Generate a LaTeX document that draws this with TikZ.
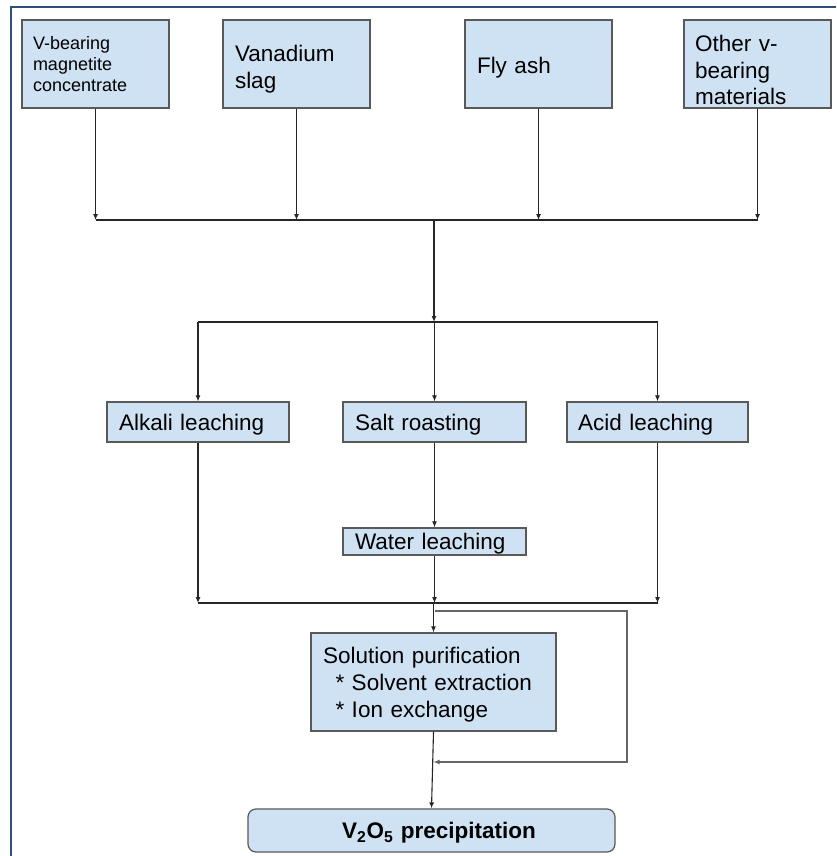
\documentclass[tikz,border=0pt]{standalone}
\usepackage{fontspec}
\setmainfont{Liberation Sans}
\usetikzlibrary{arrows.meta}
\definecolor{boxfill}{HTML}{CFE2F3}
\definecolor{boxline}{HTML}{595959}
\definecolor{frameblue}{HTML}{2E5077}
\definecolor{wire}{HTML}{262626}
\newcommand{\dn}[2]{\raisebox{-#1}[\height][\depth]{#2}}
\begin{document}
\begin{tikzpicture}[x=1pt,y=-1pt,
  box/.style={draw=boxline,line width=1.2pt,fill=boxfill,inner xsep=12pt,inner ysep=0pt,
    align=left,anchor=center,font=\fontsize{22.5}{27}\selectfont},
  arr/.style={-{Latex[length=6pt,width=5pt]},line width=1.1pt,draw=wire},
  ln/.style={line width=1.1pt,draw=wire},
  loopln/.style={-{Latex[length=6pt,width=5pt]},line width=1.1pt,draw=black!60}]
\useasboundingbox (0,0) rectangle (836,856);
\fill[white] (0,0) rectangle (836,856);
\draw[frameblue,line width=2pt] (11,856) -- (11,7) -- (836,7);

% top row
\node[box,inner xsep=11pt,text width=125pt,minimum height=88pt,font=\fontsize{18}{21}\selectfont] (b1) at (95.5,64) {V-bearing\\magnetite\\concentrate};
\node[box,text width=123pt,minimum height=88pt] (b2) at (296.5,64) {\dn{5pt}{Vanadium}\\\dn{5pt}{slag}};
\node[box,text width=123pt,minimum height=88pt] (b3) at (538.5,64) {\dn{4pt}{Fly ash}};
\node[box,inner xsep=11pt,text width=125pt,minimum height=88pt,font=\fontsize{22.5}{26.5}\selectfont] (b4) at (757.5,64) {\dn{6pt}{Other v-}\\\dn{6pt}{bearing}\\\dn{6pt}{materials}};

% middle row
\node[box,text width=158pt,minimum height=40pt] (al) at (198,422) {\dn{3pt}{Alkali leaching}};
\node[box,text width=159pt,minimum height=40pt] (sr) at (434.5,422) {\dn{3pt}{Salt roasting}};
\node[box,inner xsep=11pt,text width=159pt,minimum height=40pt] (ac) at (657.5,422) {\dn{3pt}{Acid leaching}};
\node[box,text width=159pt,minimum height=27pt] (wl) at (434.5,541.5) {\dn{2pt}{Water leaching}};

% lower
\node[box,text width=221pt,minimum height=98pt] (sol) at (433.5,682) {\dn{3pt}{Solution purification}\\\dn{3pt}{\hspace*{12.5pt}* Solvent extraction}\\\dn{3pt}{\hspace*{12.5pt}* Ion exchange}};
\node[box,rounded corners=8pt,text width=343pt,minimum height=43pt,align=center,font=\fontsize{22.5}{27}\selectfont\bfseries] (v2) at (431.5,830.5) {\dn{2pt}{\hspace*{15pt}V\textsubscript{2}O\textsubscript{5} precipitation}};

% top bus
\coordinate (bus1) at (0,220);
\foreach \n in {b1,b2,b3,b4} \draw[arr] (\n.south) -- (\n.south |- bus1);
\draw[ln] (b1.south |- bus1) -- (b4.south |- bus1);
\coordinate (hub1) at (434,220);
\coordinate (bus2) at (0,322);
\draw[arr] (hub1) -- (hub1 |- bus2);
\draw[ln] (al.north |- bus2) -- (ac.north |- bus2);
\foreach \n in {al,sr,ac} \draw[arr] (\n.north |- bus2) -- (\n.north);
\draw[arr] (sr.south) -- (wl.north);

% lower bus
\coordinate (bus3) at (0,603);
\foreach \n in {al,wl,ac} \draw[arr] (\n.south) -- (\n.south |- bus3);
\draw[ln] (al.south |- bus3) -- (ac.south |- bus3);
\draw[arr] (sol.north |- bus3) -- (sol.north);

% bypass loop
\coordinate (lp1) at (435,611);
\coordinate (lp2) at (627,611);
\coordinate (lp3) at (627,762);
\draw[loopln] (lp1) -- (lp2) -- (lp3) -- (sol.south |- lp3);
\draw[arr] (sol.south) -- (v2.north);
\end{tikzpicture}
\end{document}
